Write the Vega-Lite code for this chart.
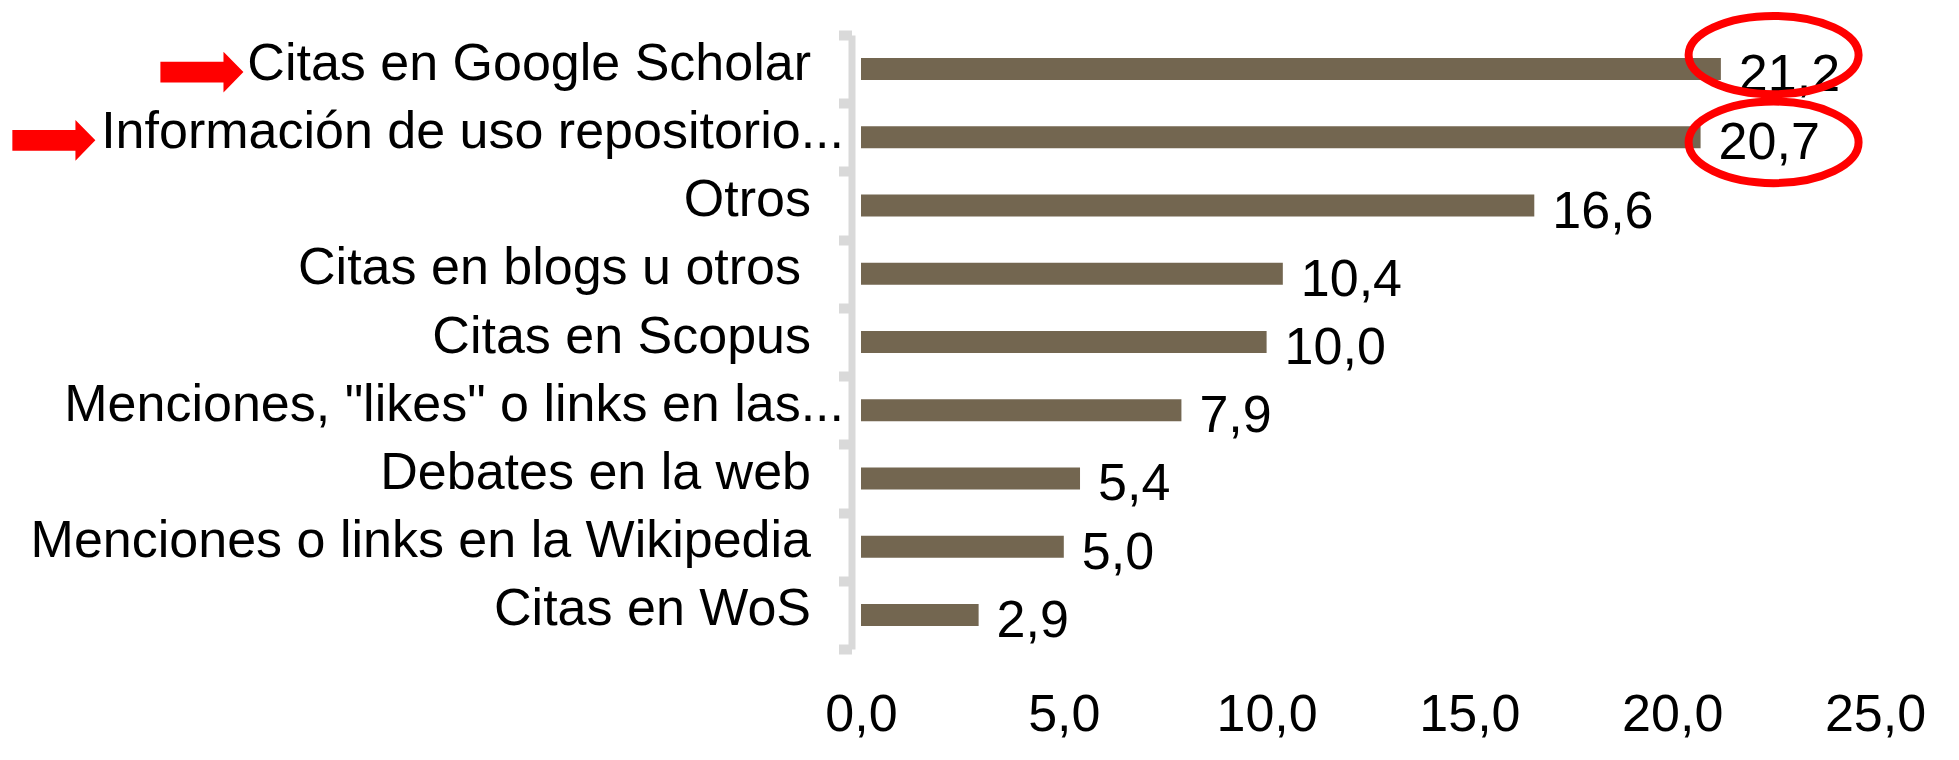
{
  "$schema": "https://vega.github.io/schema/vega-lite/v6.json",
  "width": 1014,
  "height": 614,
  "autosize": {"type": "none"},
  "padding": {"left": 861, "top": 35, "right": 84, "bottom": 111},
  "background": "white",
  "config": {
    "locale": {"number": {"decimal": ",", "thousands": ".", "grouping": [3], "currency": ["", " €"]}},
    "view": {"stroke": null},
    "font": "Liberation Sans"
  },
  "datasets": {
    "bars": [
      {"cat": "Citas en Google Scholar", "v": 21.2},
      {"cat": "Información de uso repositorio...", "v": 20.7},
      {"cat": "Otros", "v": 16.6},
      {"cat": "Citas en blogs u otros", "v": 10.4},
      {"cat": "Citas en Scopus", "v": 10.0},
      {"cat": "Menciones, \"likes\" o links en las...", "v": 7.9},
      {"cat": "Debates en la web", "v": 5.4},
      {"cat": "Menciones o links en la Wikipedia", "v": 5.0},
      {"cat": "Citas en WoS", "v": 2.9}
    ],
    "notes": [
      {"cat": "Citas en Google Scholar", "v": 22.5, "kind": "ring1"},
      {"cat": "Información de uso repositorio...", "v": 22.5, "kind": "ring2"},
      {"cat": "Citas en Google Scholar", "v": -16.25, "kind": "arrow1"},
      {"cat": "Información de uso repositorio...", "v": -19.9, "kind": "arrow2"}
    ]
  },
  "encoding": {
    "y": {
      "field": "cat",
      "type": "nominal",
      "title": null,
      "scale": {
        "domain": ["Citas en Google Scholar", "Información de uso repositorio...", "Otros", "Citas en blogs u otros", "Citas en Scopus", "Menciones, \"likes\" o links en las...", "Debates en la web", "Menciones o links en la Wikipedia", "Citas en WoS"],
        "paddingInner": 0,
        "paddingOuter": 0
      },
      "axis": {
        "domainColor": "#d9d9d9",
        "domainWidth": 7,
        "tickColor": "#d9d9d9",
        "tickWidth": 10,
        "tickSize": 13,
        "tickBand": "extent",
        "offset": 9.5,
        "labelFont": "Liberation Sans",
        "labelFontSize": 52,
        "labelColor": "black",
        "labelPadding": {
          "condition": [
            {"test": "indexof(datum.label, '...') >= 0", "value": -5},
            {"test": "datum.label === 'Citas en blogs u otros'", "value": 38}
          ],
          "value": 28
        },
        "labelLimit": 1200,
        "labelOffset": -6,
        "title": null
      }
    },
    "x": {
      "field": "v",
      "type": "quantitative",
      "title": null,
      "scale": {"domain": [0, 25], "nice": false, "zero": false},
      "axis": {
        "values": [0, 5, 10, 15, 20, 25],
        "format": ".1f",
        "domain": false,
        "ticks": false,
        "tickSize": 0,
        "grid": false,
        "labelFont": "Liberation Sans",
        "labelFontSize": 52,
        "labelColor": "black",
        "labelPadding": 40,
        "labelFlush": false,
        "labelOverlap": false,
        "title": null
      }
    }
  },
  "layer": [
    {
      "data": {"name": "bars"},
      "mark": {"type": "bar", "size": 22, "color": "#736650"}
    },
    {
      "data": {"name": "bars"},
      "mark": {"type": "text", "align": "left", "baseline": "middle", "dx": 18, "dy": 6, "fontSize": 52, "color": "black", "font": "Liberation Sans"},
      "encoding": {"text": {"field": "v", "type": "quantitative", "format": ".1f"}}
    },
    {
      "data": {"name": "notes"},
      "transform": [{"filter": "datum.kind === 'ring1'"}],
      "mark": {"type": "point", "shape": "M -1 0 A 1 0.46 0 1 0 1 0 A 1 0.46 0 1 0 -1 0 Z", "size": 28900, "filled": false, "stroke": "#ff0000", "strokeWidth": 8, "opacity": 1, "yOffset": -14}
    },
    {
      "data": {"name": "notes"},
      "transform": [{"filter": "datum.kind === 'ring2'"}],
      "mark": {"type": "point", "shape": "M -1 0 A 1 0.48 0 1 0 1 0 A 1 0.48 0 1 0 -1 0 Z", "size": 28900, "filled": false, "stroke": "#ff0000", "strokeWidth": 8, "opacity": 1, "yOffset": 5}
    },
    {
      "data": {"name": "notes"},
      "transform": [{"filter": "datum.kind === 'arrow1' || datum.kind === 'arrow2'"}],
      "mark": {"type": "point", "shape": "M -1 -0.25 L 0.52 -0.25 L 0.52 -0.49 L 1 0 L 0.52 0.49 L 0.52 0.25 L -1 0.25 Z", "size": 6889, "filled": true, "fill": "#ff0000", "strokeWidth": 0, "opacity": 1, "yOffset": 3}
    }
  ]
}
